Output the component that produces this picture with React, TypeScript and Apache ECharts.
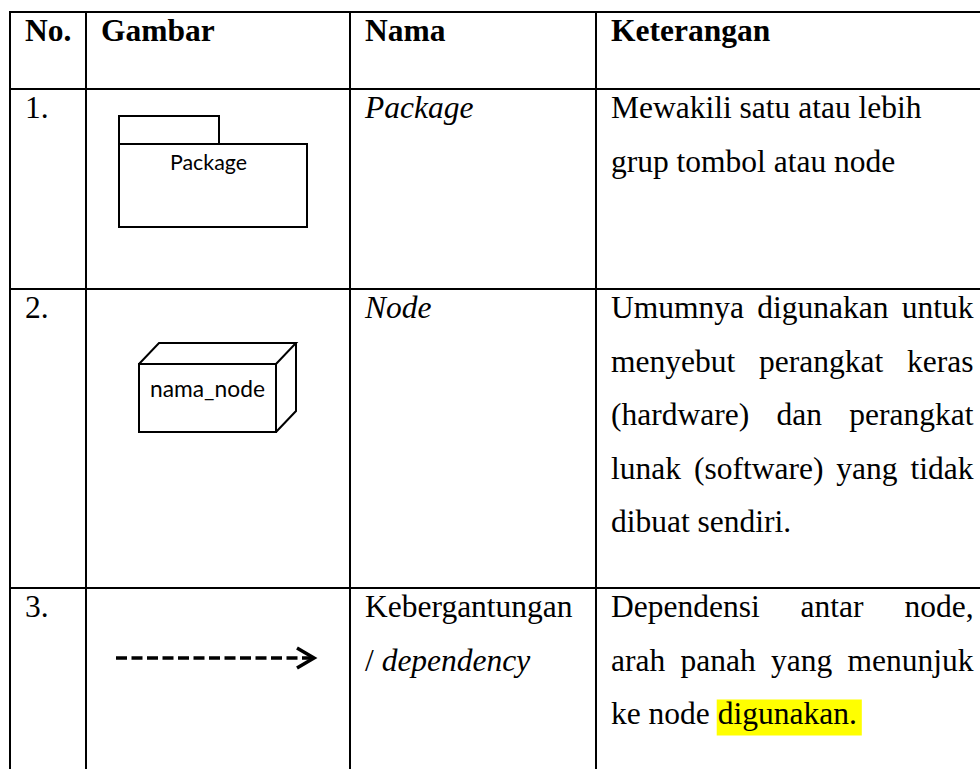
import React, { useEffect, useRef } from 'react';
import * as echarts from 'echarts';

// ---------- content ----------
const headers = ['No.', 'Gambar', 'Nama', 'Keterangan'];
const rowNumbers = ['1.', '2.', '3.'];
const nameLines = [
  [[{ t: 'Package', italic: true }]],
  [[{ t: 'Node', italic: true }]],
  [
    [{ t: 'Kebergantungan', italic: false }],
    [{ t: '/ ', italic: false }, { t: 'dependency', italic: true }],
  ],
];
const descLines = [
  ['Mewakili satu atau lebih', 'grup tombol atau node'],
  [
    'Umumnya digunakan untuk',
    'menyebut perangkat keras',
    '(hardware) dan perangkat',
    'lunak (software) yang tidak',
    'dibuat sendiri.',
  ],
  ['Dependensi antar node,', 'arah panah yang menunjuk', 'ke node digunakan.'],
];
const justified = [
  [false, false],
  [true, true, true, true, false],
  [true, true, false],
];
const highlightWord = 'digunakan.';
const iconLabels = ['Package', 'nama_node'];

// ---------- layout ----------
const W = 980;
const H = 769;
const colX = [10, 86, 350, 596];
const rowY = [12, 89, 289, 588];
const textX = [25, 101, 365, 611];
const textRight = 973.5;
const FS = 31.5;
const LINE = 53.5;
const FIRST = 29.5;
const SERIF = '"Liberation Serif", "Times New Roman", serif';
const SANS = 'Lato, "Open Sans", sans-serif';
const SERIF_CENTRAL = 0.3375; // baseline offset from central line (em)
const SANS_CENTRAL = 0.387;

let ctx: CanvasRenderingContext2D | null = null;
function measure(text: string, size: number, family: string, italic = false, bold = false) {
  if (!ctx) ctx = document.createElement('canvas').getContext('2d');
  ctx!.font = `${italic ? 'italic ' : ''}${bold ? 'bold ' : ''}${size}px ${family}`;
  return ctx!.measureText(text).width;
}

function serifText(text: string, x: number, baseline: number, italic = false, bold = false) {
  return {
    type: 'text',
    silent: true,
    x,
    y: baseline - SERIF_CENTRAL * FS,
    style: {
      text,
      fontSize: FS,
      fontFamily: SERIF,
      fontStyle: italic ? 'italic' : 'normal',
      fontWeight: bold ? 'bold' : 'normal',
      fill: '#000',
      align: 'left',
      verticalAlign: 'middle',
    },
  };
}

function buildGraphics() {
  const g: any[] = [];
  g.push({ type: 'rect', silent: true, shape: { x: 0, y: 0, width: W, height: H }, style: { fill: '#fff' } });

  // highlight
  const hlRow = 2;
  const hlLineIdx = descLines[hlRow].length - 1;
  const hlLine = descLines[hlRow][hlLineIdx];
  const hlBase = rowY[hlRow + 1] + FIRST + hlLineIdx * LINE;
  const pre = hlLine.substring(0, hlLine.indexOf(highlightWord));
  const hx = textX[3] + measure(pre, FS, SERIF);
  const hw = measure(highlightWord, FS, SERIF);
  g.push({
    type: 'rect',
    silent: true,
    shape: { x: hx - 1, y: hlBase - 25, width: hw + 6, height: 36 },
    style: { fill: '#FFFF00' },
  });

  // borders
  const border = { stroke: '#000', lineWidth: 2 };
  rowY.forEach((y) => {
    g.push({ type: 'line', silent: true, shape: { x1: colX[0] - 1, y1: y, x2: W, y2: y }, style: border });
  });
  colX.forEach((x) => {
    g.push({ type: 'line', silent: true, shape: { x1: x, y1: rowY[0] - 1, x2: x, y2: H }, style: border });
  });

  // header
  headers.forEach((h, i) => g.push(serifText(h, textX[i], rowY[0] + FIRST, false, true)));

  // rows
  rowNumbers.forEach((n, r) => {
    const top = rowY[r + 1];
    g.push(serifText(n, textX[0], top + FIRST));
    nameLines[r].forEach((segs, li) => {
      let x = textX[2];
      const b = top + FIRST + li * LINE;
      segs.forEach((s) => {
        g.push(serifText(s.t, x, b, s.italic));
        x += measure(s.t, FS, SERIF, s.italic);
      });
    });
    descLines[r].forEach((line, li) => {
      const b = top + FIRST + li * LINE;
      if (!justified[r][li]) {
        g.push(serifText(line, textX[3], b));
        return;
      }
      const words = line.split(' ');
      const widths = words.map((w) => measure(w, FS, SERIF));
      const total = widths.reduce((a, c) => a + c, 0);
      const gap = (textRight - textX[3] - total) / (words.length - 1);
      let x = textX[3];
      words.forEach((w, wi) => {
        g.push(serifText(w, x, b));
        x += widths[wi] + gap;
      });
    });
  });

  // Package icon
  const icon = { stroke: '#000', lineWidth: 2, fill: 'none' };
  g.push({ type: 'rect', silent: true, shape: { x: 119, y: 116, width: 100, height: 28 }, style: icon });
  g.push({ type: 'rect', silent: true, shape: { x: 119, y: 144, width: 188, height: 83 }, style: icon });
  const pkgW = 77;
  const pkgFs = (pkgW / measure(iconLabels[0], 100, SANS)) * 100;
  g.push({
    type: 'text',
    silent: true,
    x: 208.5,
    y: 170 - SANS_CENTRAL * pkgFs,
    style: { text: iconLabels[0], fontSize: pkgFs, fontFamily: SANS, fill: '#000', align: 'center', verticalAlign: 'middle' },
  });

  // Node icon
  const fx = 139, fy = 364, fw = 137, fh = 68, dx = 20, dy = 21;
  g.push({ type: 'rect', silent: true, shape: { x: fx, y: fy, width: fw, height: fh }, style: icon });
  g.push({
    type: 'polyline',
    silent: true,
    shape: { points: [[fx, fy], [fx + dx, fy - dy], [fx + fw + dx, fy - dy], [fx + fw, fy]] },
    style: icon,
  });
  g.push({
    type: 'polyline',
    silent: true,
    shape: { points: [[fx + fw + dx, fy - dy], [fx + fw + dx, fy + fh - dy], [fx + fw, fy + fh]] },
    style: icon,
  });
  const nodeW = 115;
  const nodeFs = (nodeW / measure(iconLabels[1], 100, SANS)) * 100;
  g.push({
    type: 'text',
    silent: true,
    x: fx + fw / 2,
    y: 397 - SANS_CENTRAL * nodeFs,
    style: { text: iconLabels[1], fontSize: nodeFs, fontFamily: SANS, fill: '#000', align: 'center', verticalAlign: 'middle' },
  });

  // dependency arrow
  const ay = 658;
  g.push({
    type: 'line',
    silent: true,
    shape: { x1: 116, y1: ay, x2: 311, y2: ay },
    style: { stroke: '#000', lineWidth: 3.5, lineDash: [11, 4.5] },
  });
  g.push({
    type: 'polyline',
    silent: true,
    shape: { points: [[297, ay - 10], [314, ay], [297, ay + 10]] },
    style: { stroke: '#000', lineWidth: 3.5, fill: 'none' },
  });

  return g;
}

export default function App() {
  const ref = useRef<HTMLDivElement>(null);
  useEffect(() => {
    if (!ref.current) return;
    const chart = echarts.init(ref.current, null, { renderer: 'svg', width: W, height: H });
    chart.setOption({
      animation: false,
      backgroundColor: '#fff',
      graphic: { elements: buildGraphics() },
    });
    return () => chart.dispose();
  }, []);
  return (
    <div
      ref={ref}
      style={{ position: 'absolute', left: 0, top: 0, width: W, height: H, background: '#fff' }}
    />
  );
}
